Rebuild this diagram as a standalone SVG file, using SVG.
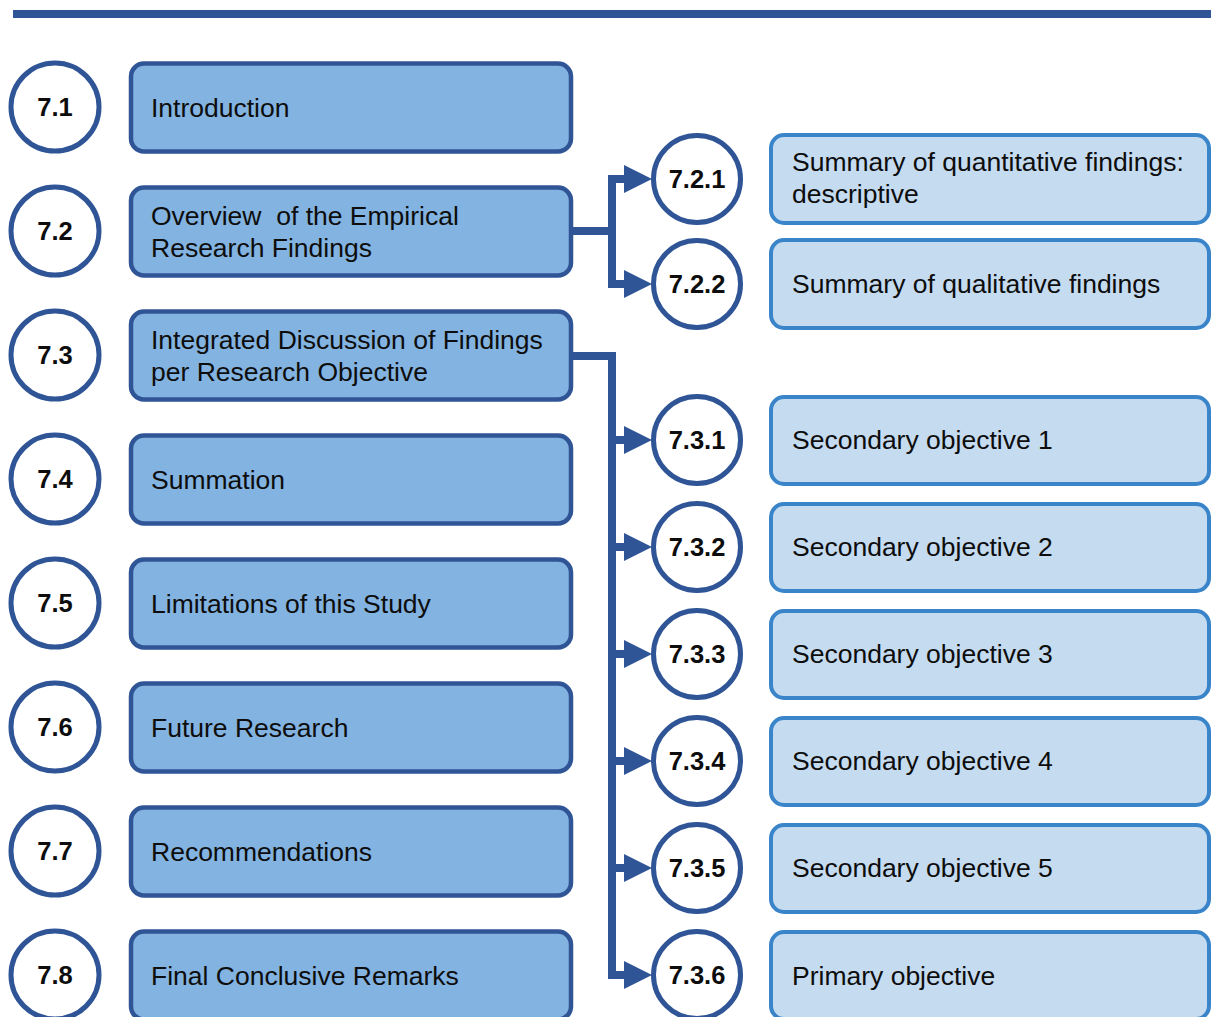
<svg xmlns="http://www.w3.org/2000/svg" width="1211" height="1017" viewBox="0 0 1211 1017">
  <style>
    .num { fill: #ffffff; stroke: #2f5597; stroke-width: 5; }
    .numtxt { font-family: "Liberation Sans", Arial, sans-serif; font-size: 25.5px; font-weight: bold; fill: #0d0d0d; text-anchor: middle; }
    .main { fill: #83b3e0; stroke: #2f5597; stroke-width: 4.5; }
    .sub { fill: #c5dbf0; stroke: #3a84c9; stroke-width: 4; }
    .lbl { font-family: "Liberation Sans", Arial, sans-serif; font-size: 26.5px; fill: #0d0d0d; }
    .conn { fill: none; stroke: #2f5597; stroke-width: 8; stroke-linejoin: miter; stroke-linecap: butt; }
  </style>
  <defs>
    <marker id="arrow" viewBox="0 0 28 28" refX="0" refY="14" markerWidth="28" markerHeight="28" markerUnits="userSpaceOnUse" orient="auto">
      <path d="M0 0 L28 14 L0 28 Z" fill="#2f5597"/>
    </marker>
  </defs>

  <rect width="1211" height="1017" fill="#ffffff"/>

  <!-- header rule -->
  <rect x="13" y="10" width="1198" height="8" fill="#2f5597"/>

  <!-- connectors -->
  <g id="connectors">
    <path class="conn" d="M571 231 H612"/>
    <path class="conn" d="M612 231 V179 H624" marker-end="url(#arrow)"/>
    <path class="conn" d="M612 231 V284 H624" marker-end="url(#arrow)"/>
    <path class="conn" d="M571 356 H612 V975 H624" marker-end="url(#arrow)"/>
    <path class="conn" d="M612 440 H624" marker-end="url(#arrow)"/>
    <path class="conn" d="M612 547 H624" marker-end="url(#arrow)"/>
    <path class="conn" d="M612 654 H624" marker-end="url(#arrow)"/>
    <path class="conn" d="M612 761 H624" marker-end="url(#arrow)"/>
    <path class="conn" d="M612 868 H624" marker-end="url(#arrow)"/>
  </g>

  <!-- main sections -->
  <g id="n7-1">
    <circle class="num" cx="55" cy="107" r="44"/>
    <text class="numtxt" x="55" y="116">7.1</text>
    <rect class="main" x="131" y="63.5" width="440" height="88" rx="13"/>
    <text class="lbl" x="151" y="117">Introduction</text>
  </g>
  <g id="n7-2">
    <circle class="num" cx="55" cy="231" r="44"/>
    <text class="numtxt" x="55" y="240">7.2</text>
    <rect class="main" x="131" y="187.5" width="440" height="88" rx="13"/>
    <text class="lbl" x="151" y="225" xml:space="preserve">Overview  of the Empirical</text>
    <text class="lbl" x="151" y="257">Research Findings</text>
  </g>
  <g id="n7-3">
    <circle class="num" cx="55" cy="355" r="44"/>
    <text class="numtxt" x="55" y="364">7.3</text>
    <rect class="main" x="131" y="311.5" width="440" height="88" rx="13"/>
    <text class="lbl" x="151" y="349">Integrated Discussion of Findings</text>
    <text class="lbl" x="151" y="381">per Research Objective</text>
  </g>
  <g id="n7-4">
    <circle class="num" cx="55" cy="479" r="44"/>
    <text class="numtxt" x="55" y="488">7.4</text>
    <rect class="main" x="131" y="435.5" width="440" height="88" rx="13"/>
    <text class="lbl" x="151" y="489">Summation</text>
  </g>
  <g id="n7-5">
    <circle class="num" cx="55" cy="603" r="44"/>
    <text class="numtxt" x="55" y="612">7.5</text>
    <rect class="main" x="131" y="559.5" width="440" height="88" rx="13"/>
    <text class="lbl" x="151" y="613">Limitations of this Study</text>
  </g>
  <g id="n7-6">
    <circle class="num" cx="55" cy="727" r="44"/>
    <text class="numtxt" x="55" y="736">7.6</text>
    <rect class="main" x="131" y="683.5" width="440" height="88" rx="13"/>
    <text class="lbl" x="151" y="737">Future Research</text>
  </g>
  <g id="n7-7">
    <circle class="num" cx="55" cy="851" r="44"/>
    <text class="numtxt" x="55" y="860">7.7</text>
    <rect class="main" x="131" y="807.5" width="440" height="88" rx="13"/>
    <text class="lbl" x="151" y="861">Recommendations</text>
  </g>
  <g id="n7-8">
    <circle class="num" cx="55" cy="975" r="44"/>
    <text class="numtxt" x="55" y="984">7.8</text>
    <rect class="main" x="131" y="931.5" width="440" height="88" rx="13"/>
    <text class="lbl" x="151" y="985">Final Conclusive Remarks</text>
  </g>

  <!-- subsections of 7.2 -->
  <g id="n7-2-1">
    <circle class="num" cx="697" cy="179" r="43.5"/>
    <text class="numtxt" x="697" y="188">7.2.1</text>
    <rect class="sub" x="771" y="135" width="438" height="88" rx="13"/>
    <text class="lbl" x="792" y="171">Summary of quantitative findings:</text>
    <text class="lbl" x="792" y="203">descriptive</text>
  </g>
  <g id="n7-2-2">
    <circle class="num" cx="697" cy="284" r="43.5"/>
    <text class="numtxt" x="697" y="293">7.2.2</text>
    <rect class="sub" x="771" y="240" width="438" height="88" rx="13"/>
    <text class="lbl" x="792" y="293">Summary of qualitative findings</text>
  </g>

  <!-- subsections of 7.3 -->
  <g id="n7-3-1">
    <circle class="num" cx="697" cy="440" r="43.5"/>
    <text class="numtxt" x="697" y="449">7.3.1</text>
    <rect class="sub" x="771" y="397" width="438" height="87" rx="13"/>
    <text class="lbl" x="792" y="449">Secondary objective 1</text>
  </g>
  <g id="n7-3-2">
    <circle class="num" cx="697" cy="547" r="43.5"/>
    <text class="numtxt" x="697" y="556">7.3.2</text>
    <rect class="sub" x="771" y="504" width="438" height="87" rx="13"/>
    <text class="lbl" x="792" y="556">Secondary objective 2</text>
  </g>
  <g id="n7-3-3">
    <circle class="num" cx="697" cy="654" r="43.5"/>
    <text class="numtxt" x="697" y="663">7.3.3</text>
    <rect class="sub" x="771" y="611" width="438" height="87" rx="13"/>
    <text class="lbl" x="792" y="663">Secondary objective 3</text>
  </g>
  <g id="n7-3-4">
    <circle class="num" cx="697" cy="761" r="43.5"/>
    <text class="numtxt" x="697" y="770">7.3.4</text>
    <rect class="sub" x="771" y="718" width="438" height="87" rx="13"/>
    <text class="lbl" x="792" y="770">Secondary objective 4</text>
  </g>
  <g id="n7-3-5">
    <circle class="num" cx="697" cy="868" r="43.5"/>
    <text class="numtxt" x="697" y="877">7.3.5</text>
    <rect class="sub" x="771" y="825" width="438" height="87" rx="13"/>
    <text class="lbl" x="792" y="877">Secondary objective 5</text>
  </g>
  <g id="n7-3-6">
    <circle class="num" cx="697" cy="975" r="43.5"/>
    <text class="numtxt" x="697" y="984">7.3.6</text>
    <rect class="sub" x="771" y="932" width="438" height="87" rx="13"/>
    <text class="lbl" x="792" y="985">Primary objective</text>
  </g>
</svg>
